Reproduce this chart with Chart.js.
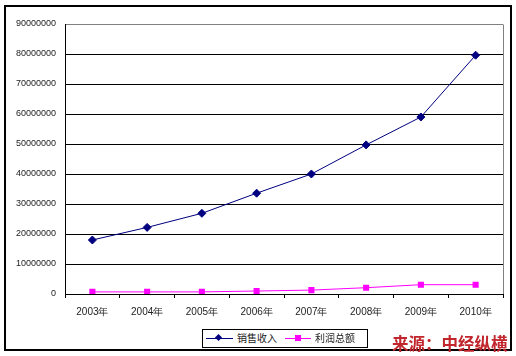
<!DOCTYPE html>
<html>
<head>
<meta charset="utf-8">
<script src="https://cdn.jsdelivr.net/npm/chart.js@4.4.1/dist/chart.umd.min.js"></script>
<style>
  html, body { margin: 0; padding: 0; background: #fff; }
  #wrap { position: relative; width: 516px; height: 356px; }
  canvas { position: absolute; left: 0; top: 0; }
  #legend { position: absolute; left: 202px; top: 329px; width: 164px; height: 17px; border: 1px solid #000; background: #fff;
            font-family: "Noto Sans CJK SC", sans-serif; font-size: 10px; color: #222; }
  .ln { position: absolute; top: 8px; height: 1px; }
  .mk { position: absolute; }
  .lt { position: absolute; top: 1px; line-height: 14px; }
  #src { position: absolute; left: 392px; top: 331px; font-family: "Noto Sans CJK SC", sans-serif; font-weight: bold;
         font-size: 16.5px; color: #c0262c; white-space: nowrap; letter-spacing: 0px; }
</style>
</head>
<body>
<div id="wrap">
  <canvas id="c" width="516" height="356"></canvas>
  <div id="legend">
    <div class="ln" style="left:3px;width:27px;background:#000080"></div>
    <div class="mk" style="left:13px;top:5px;width:5px;height:5px;background:#000080;transform:rotate(45deg)"></div>
    <div class="lt" style="left:34px">销售收入</div>
    <div class="ln" style="left:82px;width:26px;background:#ff00ff"></div>
    <div class="mk" style="left:92px;top:5px;width:6px;height:6px;background:#ff00ff"></div>
    <div class="lt" style="left:112px">利润总额</div>
  </div>
  <div id="src">来源：中经纵横</div>
</div>
<script>
const categories = ["2003年","2004年","2005年","2006年","2007年","2008年","2009年","2010年"];
const salesRevenue = [18000000, 22200000, 26900000, 33600000, 40000000, 49700000, 59000000, 79600000];
const totalProfit = [700000, 700000, 700000, 1000000, 1300000, 2100000, 3100000, 3100000];
const seriesNames = ["销售收入", "利润总额"];

const framePlugin = {
  id: 'frame',
  beforeDraw(chart) {
    const ctx = chart.ctx;
    ctx.save();
    ctx.fillStyle = '#fff';
    ctx.fillRect(0, 0, chart.width, chart.height);
    ctx.restore();
  },
  afterDraw(chart) {
    const ctx = chart.ctx;
    const a = chart.chartArea;
    ctx.save();
    ctx.strokeStyle = '#808080';
    ctx.lineWidth = 1;
    ctx.beginPath();
    ctx.moveTo(Math.round(a.right) + 0.5, Math.round(a.top) + 0.5);
    ctx.lineTo(Math.round(a.right) + 0.5, Math.round(a.bottom));
    ctx.stroke();
    ctx.strokeStyle = '#000';
    ctx.lineWidth = 2;
    ctx.strokeRect(5, 6, 506, 344);
    ctx.restore();
  }
};

new Chart(document.getElementById('c'), {
  type: 'line',
  data: {
    labels: categories,
    datasets: [
      { label: seriesNames[0], data: salesRevenue, borderColor: '#000080', backgroundColor: '#000080',
        borderWidth: 1, pointStyle: 'rectRot', pointRadius: 4, pointBorderWidth: 1, tension: 0 },
      { label: seriesNames[1], data: totalProfit, borderColor: '#ff00ff', backgroundColor: '#ff00ff',
        borderWidth: 1, pointStyle: 'rect', pointRadius: 4.3, pointBorderWidth: 0, tension: 0 }
    ]
  },
  options: {
    responsive: false,
    animation: false,
    layout: { padding: { left: 0, top: 24, right: 13, bottom: 0 } },
    plugins: { legend: { display: false }, tooltip: { enabled: false } },
    scales: {
      x: {
        offset: true,
        grid: { offset: true, drawOnChartArea: false, drawTicks: true, tickLength: 4, color: '#000' },
        border: { color: '#000', width: 1 },
        ticks: { color: '#222', font: { family: 'Liberation Sans, Arial, sans-serif', size: 10 }, padding: 8, maxRotation: 0 },
        afterFit(s) { s.height = 62; }
      },
      y: {
        min: 0, max: 90000000,
        ticks: { stepSize: 10000000, color: '#222', font: { family: 'Liberation Sans, Arial, sans-serif', size: 9 }, padding: 9,
                 callback: v => String(v) },
        grid: { drawTicks: false, color: ctx => (ctx.tick && ctx.tick.value === 90000000) ? '#808080' : '#000', lineWidth: 1 },
        border: { color: '#000', width: 1 },
        afterFit(s) { s.width = 65; }
      }
    }
  },
  plugins: [framePlugin]
});
</script>
</body>
</html>
